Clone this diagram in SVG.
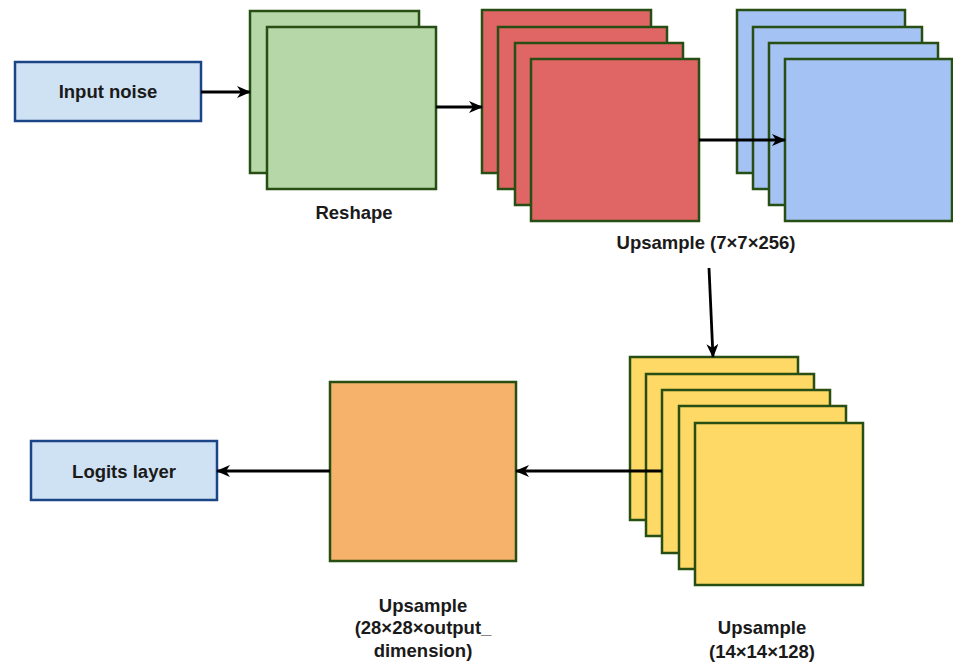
<svg xmlns="http://www.w3.org/2000/svg" width="953" height="664" viewBox="0 0 953 664">
<style>
.lbl{font-family:"Liberation Sans",Arial,sans-serif;font-weight:bold;font-size:18.5px;fill:#1a1a1a;text-anchor:middle}
.box{fill:#cfe2f3;stroke:#1c4587;stroke-width:2.5}
.fm{stroke:#274e13;stroke-width:2.5}
.g{fill:#b6d7a8}.r{fill:#e06666}.b{fill:#a4c2f4}.y{fill:#ffd966}.o{fill:#f6b26b}
.c{fill:none;stroke:#000;stroke-width:2.8}
</style>
<defs>
<marker id="ah" viewBox="0 0 14 12" refX="13" refY="6" markerWidth="14" markerHeight="12" markerUnits="userSpaceOnUse" orient="auto">
<path d="M0,0 L14,6 L0,12 L4,6 z" fill="#000"/>
</marker>
</defs>
<rect width="953" height="664" fill="#fff"/>
<g id="input-noise">
<rect class="box" x="15" y="62" width="186" height="59"/>
<text class="lbl" x="108" y="98">Input noise</text>
</g>
<g id="reshape">
<rect class="fm g" x="250" y="11" width="169" height="162"/>
<rect class="fm g" x="267" y="27" width="169" height="162"/>
<text class="lbl" x="354" y="219">Reshape</text>
</g>
<g id="upsample-7">
<rect class="fm r" x="482" y="10" width="169" height="163"/>
<rect class="fm r" x="498" y="27" width="169" height="162"/>
<rect class="fm r" x="515" y="43" width="168" height="162"/>
<rect class="fm r" x="531" y="59" width="168" height="162"/>
<text class="lbl" x="706" y="249">Upsample (7×7×256)</text>
</g>
<g id="blue-layer">
<rect class="fm b" x="737" y="10" width="168" height="163"/>
<rect class="fm b" x="753" y="27" width="169" height="162"/>
<rect class="fm b" x="769" y="43" width="169" height="162"/>
<rect class="fm b" x="785" y="59" width="167" height="162"/>
</g>
<g id="upsample-14">
<rect class="fm y" x="630" y="357" width="168" height="163"/>
<rect class="fm y" x="646" y="374" width="168" height="162"/>
<rect class="fm y" x="662" y="390" width="168" height="163"/>
<rect class="fm y" x="679" y="406" width="167" height="163"/>
<rect class="fm y" x="695" y="423" width="168" height="162"/>
<text class="lbl" x="762" y="634">Upsample</text>
<text class="lbl" x="762" y="658">(14×14×128)</text>
</g>
<g id="upsample-28">
<rect class="fm o" x="330" y="382" width="186" height="179"/>
<text class="lbl" x="423" y="612">Upsample</text>
<text class="lbl" x="423" y="634">(28×28×output_</text>
<text class="lbl" x="423" y="657">dimension)</text>
</g>
<g id="logits-layer">
<rect class="box" x="31" y="441" width="186" height="59"/>
<text class="lbl" x="124" y="478">Logits layer</text>
</g>
<g id="connectors">
<path class="c" d="M201,92 L250,92" marker-end="url(#ah)"/>
<path class="c" d="M436,107 L482,107" marker-end="url(#ah)"/>
<path class="c" d="M699,140 L785,140" marker-end="url(#ah)"/>
<path class="c" d="M709,268 L713,357" marker-end="url(#ah)"/>
<path class="c" d="M662,471 L516,471" marker-end="url(#ah)"/>
<path class="c" d="M330,471 L217,471" marker-end="url(#ah)"/>
</g>
</svg>
